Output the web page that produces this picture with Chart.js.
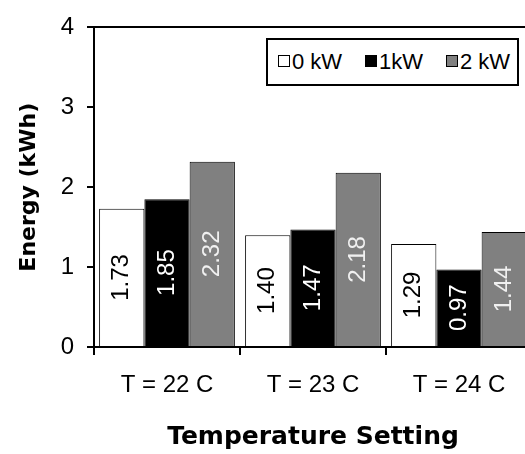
<!DOCTYPE html>
<html>
<head>
<meta charset="utf-8">
<script src="https://cdn.jsdelivr.net/npm/chart.js@4.4.0/dist/chart.umd.min.js"></script>
<style>
  body { margin: 0; overflow: hidden; background: #fff; }
  #wrap { position: relative; width: 540px; height: 454px; }
  #legend {
    position: absolute; left: 266px; top: 38px; width: 249px; height: 44px;
    border: 2px solid #000; background: #fff;
    font: 22px "Liberation Sans", Arial, sans-serif; color: #000;
  }
  #legend .item { position: absolute; top: 0; line-height: 44px; white-space: nowrap; }
  #legend .sw {
    display: inline-block; width: 10px; height: 10px; border: 1px solid #000;
    vertical-align: middle; margin-right: 2px; position: relative; top: -2px;
  }
</style>
</head>
<body>
<div id="wrap">
  <canvas id="energyChart" width="540" height="454"></canvas>
  <div id="legend"></div>
</div>
<script>
// Chart data
var categories = ['T = 22 C', 'T = 23 C', 'T = 24 C'];
var seriesNames = ['0 kW', '1kW', '2 kW'];
var energy0kW = [1.73, 1.40, 1.29];
var energy1kW = [1.85, 1.47, 0.97];
var energy2kW = [2.32, 2.18, 1.44];
var yTicks = [0, 1, 2, 3, 4];

var barColors = ['#ffffff', '#000000', '#808080'];
var labelColors = ['#000000', '#ffffff', '#f0f0f0'];
var legendOffsets = [10, 97, 178];

var tickFont = { family: '"Liberation Sans", Arial, sans-serif', size: 24 };

// Vertical value labels in the middle of each bar
var barLabels = {
    id: 'barLabels',
    afterDatasetsDraw: function(chart) {
        var ctx = chart.ctx;
        chart.data.datasets.forEach(function(ds, i) {
            chart.getDatasetMeta(i).data.forEach(function(bar, j) {
                ctx.save();
                ctx.translate(bar.x, (bar.y + bar.base) / 2);
                ctx.rotate(-Math.PI / 2);
                ctx.font = '24px "Liberation Sans", Arial, sans-serif';
                ctx.fillStyle = labelColors[i];
                ctx.textAlign = 'center';
                ctx.textBaseline = 'middle';
                ctx.fillText(ds.data[j].toFixed(2), 0, 0);
                ctx.restore();
            });
        });
    }
};

function buildLegend() {
    var box = document.getElementById('legend');
    seriesNames.forEach(function(name, i) {
        var item = document.createElement('div');
        item.className = 'item';
        item.style.left = legendOffsets[i] + 'px';
        var sw = document.createElement('span');
        sw.className = 'sw';
        sw.style.background = barColors[i];
        item.appendChild(sw);
        item.appendChild(document.createTextNode(name));
        box.appendChild(item);
    });
}

function loadBarChart() {
    var ctx = document.getElementById('energyChart').getContext('2d');
    var series = [energy0kW, energy1kW, energy2kW];
    new Chart(ctx, {
        type: 'bar',
        data: {
            labels: categories,
            datasets: series.map(function(vals, i) {
                return {
                    label: seriesNames[i],
                    data: vals,
                    backgroundColor: barColors[i],
                    borderColor: '#000',
                    borderWidth: 1,
                    categoryPercentage: 0.93,
                    barPercentage: 1.0
                };
            })
        },
        options: {
            responsive: false,
            animation: false,
            layout: { padding: { top: 23, right: 8, left: 0, bottom: 0 } },
            plugins: {
                legend: { display: false },
                tooltip: { enabled: false }
            },
            scales: {
                x: {
                    afterFit: function(s) { s.height = 107; },
                    ticks: { color: '#000', font: tickFont, padding: 16, maxRotation: 0 },
                    grid: { drawOnChartArea: false, tickColor: '#000', tickLength: 8, lineWidth: 2, offset: true },
                    border: { color: '#000', width: 2 },
                    title: {
                        display: true,
                        text: 'Temperature Setting',
                        color: '#000',
                        font: { family: '"DejaVu Sans", Verdana, sans-serif', weight: 'bold', size: 25 },
                        padding: { top: 0, bottom: 2 }
                    }
                },
                y: {
                    min: 0,
                    max: 4,
                    afterFit: function(s) { s.width = 94; },
                    afterBuildTicks: function(s) {
                        s.ticks = yTicks.map(function(v) { return { value: v }; });
                    },
                    ticks: { color: '#000', font: tickFont, padding: 13 },
                    grid: {
                        color: function(c) { return c.tick && c.tick.value === 4 ? '#000' : 'rgba(0,0,0,0)'; },
                        tickColor: '#000',
                        tickLength: 7,
                        lineWidth: 2
                    },
                    border: { color: '#000', width: 2 },
                    title: {
                        display: true,
                        text: 'Energy (kWh)',
                        color: '#000',
                        font: { family: '"DejaVu Sans", Verdana, sans-serif', weight: 'bold', size: 22 },
                        padding: { top: 16, bottom: 0 }
                    }
                }
            }
        },
        plugins: [barLabels]
    });
}

window.onload = function() {
    buildLegend();
    loadBarChart();
};
</script>
</body>
</html>
